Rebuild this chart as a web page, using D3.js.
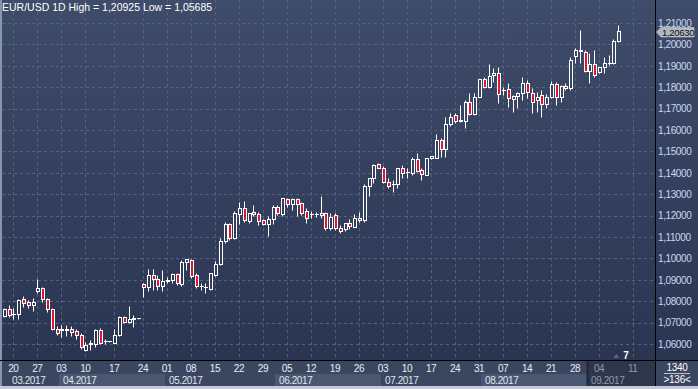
<!DOCTYPE html>
<html>
<head>
<meta charset="utf-8">
<script src="https://cdn.jsdelivr.net/npm/d3@7"></script>
<style>
  html, body { margin: 0; padding: 0; background: #2b3653; overflow: hidden; }
  svg { display: block; font-family: "Liberation Sans", Arial, sans-serif; }
</style>
</head>
<body>
<div id="chart"></div>
<script>
// daily EUR/USD candles, 16.03.2017 - 08.09.2017
var opens = [1.0732,1.0762,1.0741,1.0741,1.0809,1.0797,1.0781,1.0846,1.0862,1.0811,
  1.0764,1.0672,1.0666,1.0666,1.0670,1.0662,1.0643,1.0573,1.0601,1.0601,
  1.0666,1.0612,1.0612,1.0607,1.0643,1.0726,1.0705,1.0719,1.0720,1.0881,
  1.0866,1.0923,1.0903,1.0869,1.0895,1.0897,1.0926,1.0880,1.0981,1.0993,
  1.0923,1.0869,1.0866,1.0858,1.0923,1.0975,1.1079,1.1161,1.1097,1.1207,
  1.1235,1.1177,1.1217,1.1208,1.1180,1.1160,1.1183,1.1239,1.1208,1.1277,
  1.1253,1.1277,1.1258,1.1222,1.1207,1.1207,1.1203,1.1214,1.1141,1.1203,
  1.1144,1.1137,1.1165,1.1149,1.1191,1.1180,1.1339,1.1375,1.1440,1.1424,
  1.1359,1.1347,1.1347,1.1421,1.1403,1.1398,1.1465,1.1414,1.1390,1.1468,
  1.1471,1.1554,1.1512,1.1628,1.1669,1.1644,1.1644,1.1733,1.1675,1.1756,
  1.1837,1.1803,1.1857,1.1868,1.1787,1.1790,1.1746,1.1759,1.1772,1.1818,
  1.1775,1.1740,1.1764,1.1722,1.1756,1.1815,1.1756,1.1806,1.1795,1.1946,
  1.1971,1.1966,1.1877,1.1909,1.1873,1.1893,1.1913,1.1912,1.2017];
var highs = [1.0769,1.0783,1.0770,1.0811,1.0825,1.0806,1.0816,1.0904,1.0867,1.0816,
  1.0769,1.0685,1.0690,1.0690,1.0685,1.0671,1.0652,1.0610,1.0620,1.0671,
  1.0676,1.0624,1.0615,1.0671,1.0732,1.0732,1.0778,1.0736,1.0722,1.0884,
  1.0951,1.0951,1.0923,1.0947,1.0914,1.0934,1.0934,1.0993,1.0998,1.0998,
  1.0933,1.0884,1.0887,1.0934,1.0989,1.1097,1.1171,1.1167,1.1222,1.1263,
  1.1269,1.1214,1.1250,1.1219,1.1185,1.1200,1.1250,1.1250,1.1283,1.1281,
  1.1281,1.1281,1.1264,1.1235,1.1223,1.1217,1.1292,1.1217,1.1213,1.1211,
  1.1157,1.1167,1.1185,1.1207,1.1216,1.1348,1.1375,1.1440,1.1445,1.1432,
  1.1375,1.1367,1.1421,1.1437,1.1421,1.1476,1.1492,1.1421,1.1471,1.1480,
  1.1580,1.1563,1.1662,1.1681,1.1678,1.1717,1.1740,1.1772,1.1772,1.1837,
  1.1846,1.1909,1.1888,1.1896,1.1803,1.1818,1.1764,1.1779,1.1846,1.1834,
  1.1795,1.1779,1.1787,1.1768,1.1831,1.1826,1.1810,1.1818,1.1940,1.1982,
  1.2067,1.1974,1.1959,1.1974,1.1896,1.1943,1.1951,1.2024,1.20925];
var lows = [1.0727,1.0727,1.0718,1.0718,1.0774,1.0769,1.0755,1.0839,1.0797,1.0750,
  1.0666,1.0643,1.0634,1.0638,1.0638,1.0624,1.0578,1.05685,1.0573,1.0587,
  1.0601,1.0601,1.0608,1.0606,1.0638,1.0699,1.0699,1.0680,1.0718,1.0819,
  1.0850,1.0854,1.0854,1.0850,1.0886,1.0884,1.0876,1.0872,1.0947,1.0909,
  1.0861,1.0854,1.0838,1.0854,1.0918,1.0970,1.1073,1.1087,1.1091,1.1160,
  1.1172,1.1165,1.1200,1.1157,1.1157,1.1107,1.1160,1.1203,1.1200,1.1239,
  1.1227,1.1199,1.1203,1.1165,1.1191,1.1194,1.1188,1.1133,1.1133,1.1133,
  1.1118,1.1129,1.1138,1.1149,1.1172,1.1172,1.1292,1.1351,1.1421,1.1351,
  1.1328,1.1312,1.1328,1.1378,1.1378,1.1390,1.1406,1.1367,1.1390,1.1465,
  1.1470,1.1473,1.1476,1.1619,1.1632,1.1639,1.1608,1.1670,1.1670,1.1754,
  1.1795,1.1795,1.1826,1.1725,1.1764,1.1706,1.1686,1.1702,1.1740,1.1748,
  1.1681,1.1686,1.1660,1.1703,1.1748,1.1717,1.1733,1.1787,1.1787,1.1912,
  1.1912,1.1873,1.1818,1.1849,1.1865,1.1865,1.1904,1.1909,1.2013];
var closes = [1.0764,1.0736,1.0739,1.0806,1.0792,1.0781,1.0797,1.0862,1.0811,1.0764,
  1.0672,1.0651,1.0672,1.0670,1.0658,1.0643,1.0587,1.0596,1.0603,1.0666,
  1.0607,1.0614,1.0612,1.0643,1.0726,1.0705,1.0716,1.0721,1.0721,1.0866,
  1.0923,1.0903,1.0869,1.0895,1.0900,1.0926,1.0884,1.0985,1.0997,1.0918,
  1.0869,1.0870,1.0867,1.0931,1.0975,1.1082,1.1161,1.1097,1.1211,1.1235,
  1.1180,1.1214,1.1207,1.1177,1.1160,1.1183,1.1239,1.1211,1.1281,1.1253,
  1.1277,1.1253,1.1211,1.1191,1.1208,1.1208,1.1214,1.1141,1.1195,1.1144,
  1.1129,1.1165,1.1152,1.1188,1.1180,1.1339,1.1375,1.1437,1.1424,1.1356,
  1.1340,1.1348,1.1421,1.1401,1.1404,1.1465,1.1409,1.1393,1.1468,1.1479,
  1.1554,1.1512,1.1628,1.1662,1.1644,1.1646,1.1733,1.1675,1.1756,1.1837,
  1.1803,1.1853,1.1865,1.1768,1.1786,1.1748,1.1759,1.1775,1.1818,1.1779,
  1.1733,1.1756,1.1720,1.1756,1.1815,1.1756,1.1806,1.1795,1.1927,1.1974,
  1.1974,1.1877,1.1909,1.1857,1.1893,1.1912,1.1915,1.2017,1.2063];

// price axis
var priceTicks = [1.06,1.07,1.08,1.09,1.10,1.11,1.12,1.13,1.14,1.15,1.16,1.17,1.18,1.19,1.20,1.21];
// weekly date axis (candle index of each Monday)
var dayLabels = ["20","27","03","10","17","24","01","08","15","22","29","05","12","19","26",
  "03","10","17","24","31","07","14","21","28","04","11"];
var dayIndex = [2,7,12,17,23,29,34,39,44,49,54,59,64,69,74,79,84,89,94,99,104,109,114,119,124,131];
var monthLabels = ["03.2017","04.2017","05.2017","06.2017","07.2017","08.2017","09.2017"];
var monthStart = [-2,12,34,57,79,100,122];

function fmt(v) {
  return v.toFixed(5).replace(".", ",");
}

function init() {
  var w = 698;
  var h = 389;
  var plotRight = 655;
  var plotBottom = 360;
  var axisBottom = 386;

  var svg = d3
    .select("#chart")
    .append("svg")
    .attr("width", w)
    .attr("height", h);

  var grad = svg
    .append("defs")
    .append("linearGradient")
    .attr("id", "bg")
    .attr("gradientUnits", "userSpaceOnUse")
    .attr("x1", 0).attr("y1", 0)
    .attr("x2", 0).attr("y2", plotBottom);
  grad.append("stop").attr("offset", "0%").attr("stop-color", "#3e4b69");
  grad.append("stop").attr("offset", "100%").attr("stop-color", "#2a3552");

  // scales
  var x = d3.scaleLinear().domain([0, opens.length - 1]).range([3.7, 618.3]);
  var y = d3.scaleLinear().domain([1.06, 1.21]).range([344, 23]);
  var px = function (i) { return Math.round(x(i)) + 0.5; };
  var py = function (v) { return Math.round(y(v)) + 0.5; };

  // background
  svg.append("rect")
    .attr("width", w).attr("height", plotBottom)
    .attr("fill", "url(#bg)");

  // grid
  var grid = svg.append("g")
    .attr("stroke", "#55627f")
    .attr("stroke-dasharray", "3,3");
  grid.selectAll(".hg")
    .data(priceTicks)
    .enter()
    .append("line")
    .attr("x1", 2).attr("x2", plotRight)
    .attr("y1", py).attr("y2", py);
  grid.selectAll(".vg")
    .data(dayIndex)
    .enter()
    .append("line")
    .attr("x1", px).attr("x2", px)
    .attr("y1", 0).attr("y2", plotBottom);

  // candles
  var candles = opens.map(function (o, i) {
    return { i: i, o: o, h: highs[i], l: lows[i], c: closes[i] };
  });

  var g = svg.append("g");

  g.selectAll(".wick")
    .data(candles)
    .enter()
    .append("line")
    .attr("x1", (d) => px(d.i))
    .attr("x2", (d) => px(d.i))
    .attr("y1", (d) => py(d.h))
    .attr("y2", (d) => py(d.l))
    .attr("stroke", "#ffffff");

  g.selectAll(".body")
    .data(candles)
    .enter()
    .append("rect")
    .attr("x", (d) => px(d.i) - 1)
    .attr("width", 3)
    .attr("y", (d) => py(Math.max(d.o, d.c)))
    .attr("height", (d) => Math.max(py(Math.min(d.o, d.c)) - py(Math.max(d.o, d.c)), 0.01))
    .attr("fill", (d) => (d.c >= d.o ? "url(#bg)" : "#e3122e"))
    .attr("stroke", "#ffffff")
    .attr("stroke-width", 1);

  // title
  svg.append("text")
    .attr("x", 2)
    .attr("y", 10.5)
    .attr("font-size", "10.5px")
    .attr("fill", "#ffffff")
    .text("EUR/USD 1D High = " + fmt(d3.max(highs)) + " Low = " + fmt(d3.min(lows)));

  // price labels
  svg.selectAll(".pl")
    .data(priceTicks)
    .enter()
    .append("text")
    .attr("x", 658)
    .attr("y", (d) => y(d) + 3.7)
    .attr("font-size", "10px")
    .attr("letter-spacing", "-0.4px")
    .attr("fill", "#c9d9f1")
    .text(fmt);

  // last price tag
  var last = closes[closes.length - 1];
  var ty = y(last) + 1;
  svg.append("path")
    .attr("d", "M656.5," + ty + "L661," + (ty - 4.3) + "L694," + (ty - 4.3) +
      "L694," + (ty + 5) + "L661," + (ty + 5) + "Z")
    .attr("fill", "#b2b7c0")
    .attr("stroke", "#d3d7dd")
    .attr("stroke-width", 0.6);
  svg.append("text")
    .attr("x", 662)
    .attr("y", ty + 4)
    .attr("font-size", "9.5px")
    .attr("letter-spacing", "-0.3px")
    .attr("fill", "#111111")
    .text(fmt(last));

  // date axis
  var axis = svg.append("g");
  axis.append("rect")
    .attr("x", 0).attr("y", plotBottom)
    .attr("width", w).attr("height", h - plotBottom)
    .attr("fill", "#3a4560");

  var months = monthLabels.map(function (m, k) {
    var x0 = k === 0 ? 2 : x(monthStart[k] - 0.5);
    var x1 = k === monthLabels.length - 1 ? plotRight : x(monthStart[k + 1] - 0.5);
    return { label: m, x0: Math.round(x0), x1: Math.round(x1), k: k };
  });
  var lastMonth = months[months.length - 1];

  axis.selectAll(".mb")
    .data(months)
    .enter()
    .append("rect")
    .attr("x", (d) => d.x0)
    .attr("y", 374)
    .attr("width", (d) => d.x1 - d.x0)
    .attr("height", 12)
    .attr("fill", (d) => (d.k % 2 ? "#4b5671" : "#3b4661"));

  // current month shaded
  axis.append("rect")
    .attr("x", lastMonth.x0).attr("y", plotBottom + 1)
    .attr("width", plotRight - lastMonth.x0).attr("height", axisBottom - plotBottom - 1)
    .attr("fill", "#2d364d");
  axis.append("line")
    .attr("x1", lastMonth.x0 + 0.5).attr("x2", lastMonth.x0 + 0.5)
    .attr("y1", plotBottom).attr("y2", axisBottom)
    .attr("stroke", "#1f2636").attr("stroke-width", 2);

  axis.selectAll(".ml")
    .data(months)
    .enter()
    .append("text")
    .attr("x", (d) => (d.k === 0 ? 12 : d.x0 + 4))
    .attr("y", 383.5)
    .attr("font-size", "10px")
    .attr("letter-spacing", "-0.4px")
    .attr("fill", (d) => (d === lastMonth ? "#8e99ae" : "#dfe6ef"))
    .text((d) => d.label);

  axis.selectAll(".dl")
    .data(dayLabels)
    .enter()
    .append("text")
    .attr("x", (d, i) => x(dayIndex[i]))
    .attr("y", 371.5)
    .attr("text-anchor", "middle")
    .attr("font-size", "10px")
    .attr("letter-spacing", "-0.4px")
    .attr("fill", (d, i) => (dayIndex[i] >= monthStart[monthStart.length - 1] ? "#8e99ae" : "#e8edf5"))
    .text((d) => d);

  // bar counter box
  var box = svg.append("g");
  box.append("rect")
    .attr("x", plotRight + 1).attr("y", plotBottom + 1)
    .attr("width", w - plotRight - 1).attr("height", axisBottom - plotBottom - 1)
    .attr("fill", "#3a4560");
  box.append("text")
    .attr("x", 677).attr("y", 370.5)
    .attr("text-anchor", "middle")
    .attr("font-size", "10px")
    .attr("letter-spacing", "-0.3px")
    .attr("fill", "#ffffff")
    .text("1340");
  box.append("line")
    .attr("x1", 664).attr("x2", 690)
    .attr("y1", 373.5).attr("y2", 373.5)
    .attr("stroke", "#b8c2d0");
  box.append("text")
    .attr("x", 677).attr("y", 383)
    .attr("text-anchor", "middle")
    .attr("font-size", "10px")
    .attr("letter-spacing", "-0.3px")
    .attr("fill", "#ffffff")
    .text(">136<");

  // marker under last candle
  var mx = x(opens.length - 1);
  svg.append("path")
    .attr("d", "M" + (mx - 5) + ",358L" + (mx + 1) + ",358L" + (mx - 2) + ",354Z")
    .attr("fill", "#5d667c");
  svg.append("text")
    .attr("x", mx + 5).attr("y", 359)
    .attr("font-size", "10px")
    .attr("font-weight", "bold")
    .attr("fill", "#ffffff")
    .text("7");

  // borders
  svg.append("rect")
    .attr("x", 0).attr("y", 0)
    .attr("width", 2).attr("height", axisBottom)
    .attr("fill", "#8796b0");
  svg.append("rect")
    .attr("x", 0).attr("y", axisBottom)
    .attr("width", w).attr("height", h - axisBottom)
    .attr("fill", "#c5cbd4");
  svg.append("line")
    .attr("x1", 0).attr("x2", w)
    .attr("y1", plotBottom + 0.5).attr("y2", plotBottom + 0.5)
    .attr("stroke", "#000000");
  svg.append("line")
    .attr("x1", plotRight + 0.5).attr("x2", plotRight + 0.5)
    .attr("y1", 0).attr("y2", axisBottom)
    .attr("stroke", "#000000");
}

window.onload = init;
</script>
</body>
</html>
